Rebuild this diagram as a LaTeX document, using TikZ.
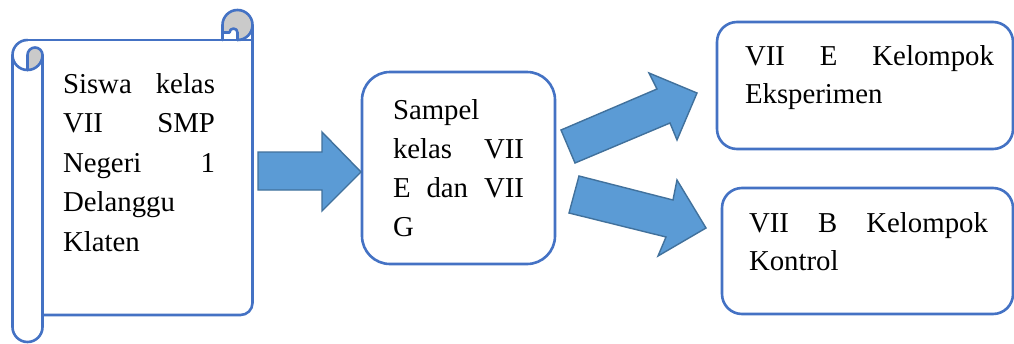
\documentclass[tikz,border=0pt]{standalone}
\usepackage{fontspec}
\setmainfont{Liberation Serif}
\definecolor{outl}{HTML}{4472C4}
\definecolor{curlgray}{HTML}{CACACA}
\definecolor{arrfill}{HTML}{5B9BD5}
\definecolor{arrline}{HTML}{41719C}
\newcommand{\jline}[1]{\makebox[\linewidth][s]{#1}}
\tikzset{
  outline/.style={draw=outl, line width=2.6pt, line join=round, line cap=round},
  rbox/.style={draw=outl, line width=2.6pt, fill=white},
  blockarrow/.style={draw=arrline, line width=1.4pt, fill=arrfill, line join=miter},
  txt/.style={anchor=base west, inner sep=0pt, outer sep=0pt},
}
\begin{document}
\begin{tikzpicture}[x=1pt,y=1pt]
\useasboundingbox (0,0) rectangle (1014,-343);
\fill[white] (0,0) rectangle (1014,-343);

% ---- scroll shape ----
% gray curls
\fill[curlgray] (237.5,-40) arc[start angle=-90,end angle=180,radius=15]
  -- (222.5,-32.5) -- (229.5,-32.5) arc[start angle=180,end angle=0,radius=4] -- cycle;
\fill[curlgray] (27.5,-55) arc[start angle=180,end angle=0,radius=7.5]
  arc[start angle=0,end angle=-90,radius=15] -- cycle;
% top-right curl strokes
\draw[outline] (237.5,-40) arc[start angle=-90,end angle=180,radius=15] -- (222.5,-40);
\draw[outline] (222.5,-32.5) -- (229.5,-32.5) arc[start angle=180,end angle=0,radius=4] -- (237.5,-40);
% sheet
\draw[outline] (27.5,-40) -- (252.5,-40);
\draw[outline] (252.5,-25.5) -- (252.5,-303) arc[start angle=0,end angle=-90,radius=12] -- (42.5,-315);
% left roll
\draw[outline] (27.5,-40) arc[start angle=90,end angle=360,radius=15] -- (42.5,-327)
  arc[start angle=0,end angle=-180,radius=15] -- (12.5,-55);
\draw[outline] (27.5,-70) -- (27.5,-55) arc[start angle=180,end angle=0,radius=7.5];
\node[txt] (siswa) at (63,-93) {\parbox[t]{152pt}{\fontsize{28.8}{39.5}\selectfont
  \jline{Siswa kelas}\\\jline{VII SMP}\\\jline{Negeri 1}\\Delanggu\\Klaten}};

% ---- sample box ----
\draw[rbox, rounded corners=28pt] (362,-72) rectangle (555,-264);
\coordinate (sampelbox) at (458.5,-168);
\node[txt] (sampel) at (393,-119) {\parbox[t]{131pt}{\fontsize{28.8}{39}\selectfont
  Sampel\\\jline{kelas VII}\\\jline{E dan VII}\\G}};

% ---- result boxes ----
\draw[rbox, rounded corners=20pt] (717,-22) rectangle (1013,-149);
\node[txt] (eks) at (745,-65) {\parbox[t]{249pt}{\fontsize{28.8}{38}\selectfont
  \jline{VII E Kelompok}\\Eksperimen}};
\draw[rbox, rounded corners=20pt] (722,-188) rectangle (1013,-314);
\node[txt] (kon) at (749,-232) {\parbox[t]{239pt}{\fontsize{28.8}{38}\selectfont
  \jline{VII B Kelompok}\\Kontrol}};

% ---- block arrows ----
\draw[blockarrow] (258,-152) -- (322,-152) -- (322,-132) -- (361,-172) -- (322,-211) -- (322,-190) -- (258,-190) -- cycle;
\draw[blockarrow] (561,-130) -- (657,-89) -- (649,-73) -- (697,-93) -- (677,-140) -- (670,-123) -- (575,-163) -- cycle;
\draw[blockarrow] (579,-176) -- (673,-200) -- (677,-180) -- (706,-228) -- (658,-256) -- (666,-237) -- (569,-213) -- cycle;
\end{tikzpicture}
\end{document}
